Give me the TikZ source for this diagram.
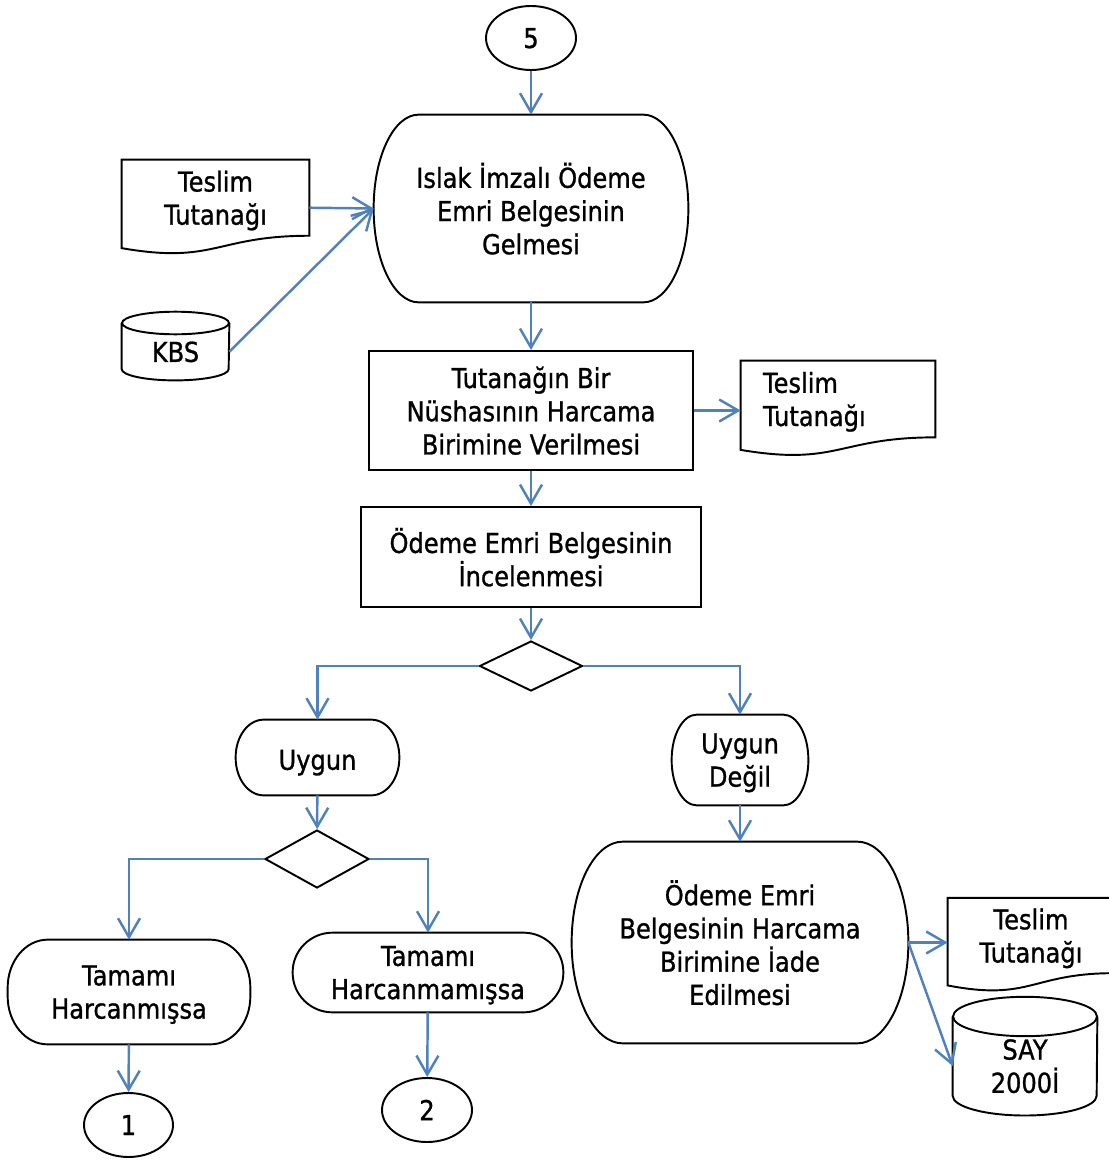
\documentclass[tikz,border=0pt]{standalone}
\usepackage{fontspec}
\setmainfont{DejaVu Sans}[FakeStretch=0.88,FakeBold=1]
\usetikzlibrary{shapes.geometric,arrows.meta,calc}
\definecolor{flowblue}{RGB}{79,129,189}
\newcommand{\pxl}{0.02cm}

\tikzset{
  every node/.style={font=\fontsize{15.6}{18.9}\selectfont, align=center, inner sep=0pt, text depth=0pt},
  dims/.style 2 args={minimum width=#1*\pxl, minimum height=#2*\pxl},
  outline/.style={draw=black, line width=1.1pt},
  procbox/.style={rectangle, outline},
  termbox/.style={rectangle},
  docbox/.style={rectangle},
  diskbox/.style={rectangle},
  decide/.style={diamond, outline},
  connector/.style={ellipse, outline},
  conn/.style={draw=flowblue, line width=1.4pt, -{Straight Barb[length=0.38cm,width=0.44cm]}},
}

\begin{document}
\begin{tikzpicture}[x=\pxl, y=-\pxl]
\useasboundingbox (0,0) rectangle (1108,1162);

% main column
\node[connector, dims={90}{64}] (c5) at (531,38) {5};
\node[termbox, dims={314}{187}] (islak) at (531,208.5) {Islak İmzalı Ödeme\\Emri Belgesinin\\Gelmesi};
\node[docbox, dims={187}{75.4}] (tesl1) at (215.5,197.7) {Teslim\\Tutanağı};
\node[diskbox, dims={107}{56.7}] (kbs) at (175.5,351.7) {KBS};
\node[procbox, dims={324}{119}] (tut) at (531,410.5) {Tutanağın Bir\\Nüshasının Harcama\\Birimine Verilmesi};
\node[docbox, dims={194}{76}, text width=150*\pxl, align=left, text depth=18.9pt] (tesl2) at (838,399) {Teslim\\Tutanağı};
\node[procbox, dims={340}{100}] (inc) at (531,557) {Ödeme Emri Belgesinin\\İncelenmesi};
\node[decide, dims={103}{50}] (d1) at (531,666) {};

% left branch
\node[termbox, dims={163}{75}, text height=14pt] (uygun) at (317.5,757.5) {Uygun};
\node[decide, dims={104}{58}] (d2) at (317,859) {};
\node[termbox, dims={242}{104}] (tam1) at (129,992) {Tamamı\\Harcanmışsa};
\node[termbox, dims={270}{79}] (tam2) at (428,972.5) {Tamamı\\Harcanmamışsa};
\node[connector, dims={89}{64}] (c1) at (128.5,1125) {1};
\node[connector, dims={90}{64}] (c2) at (427,1110) {2};

% right branch
\node[termbox, dims={136}{90}] (uygund) at (740,760) {Uygun\\Değil};
\node[termbox, dims={336}{201}] (iade) at (740,942.5) {Ödeme Emri\\Belgesinin Harcama\\Birimine İade\\Edilmesi};
\node[docbox, dims={166}{74.6}] (tesl3) at (1031,935.5) {Teslim\\Tutanağı};
\node[diskbox, dims={144}{98.3}] (say) at (1025,1066) {SAY\\2000İ};

% outlines
\foreach \n/\rx/\ry in {islak/45/93.5, iade/51/100.5, uygun/28/37.5, uygund/25/45, tam1/40/48, tam2/40/39.5}{
  \draw[outline] ([xshift=\rx*\pxl]\n.north west) -- ([xshift=-\rx*\pxl]\n.north east)
    arc[start angle=90, end angle=0, x radius=\rx*\pxl, y radius=\ry*\pxl]
    -- ([yshift=\ry*\pxl]\n.south east)
    arc[start angle=0, end angle=-90, x radius=\rx*\pxl, y radius=\ry*\pxl]
    -- ([xshift=\rx*\pxl]\n.south west)
    arc[start angle=270, end angle=180, x radius=\rx*\pxl, y radius=\ry*\pxl]
    -- ([yshift=-\ry*\pxl]\n.north west)
    arc[start angle=180, end angle=90, x radius=\rx*\pxl, y radius=\ry*\pxl] -- cycle;
}
\foreach \n/\h in {tesl1/94, tesl2/95, tesl3/93}{
  \draw[outline] (\n.north west) -- (\n.north east) -- (\n.south east)
    .. controls (\n.south) and ([yshift=-0.305*\h*\pxl]\n.south) .. ([yshift=-0.132*\h*\pxl]\n.south west) -- cycle;
}
\foreach \n/\r/\ry in {kbs/53.5/11.3, say/72/19.7}{
  \draw[outline] (\n.north west) -- ([yshift=\ry*\pxl]\n.south west)
    arc[start angle=180, end angle=360, x radius=\r*\pxl, y radius=\ry*\pxl] -- (\n.north east);
  \draw[outline] (\n.north) ellipse[x radius=\r*\pxl, y radius=\ry*\pxl];
}

% connectors
\draw[conn] (c5) -- (islak);
\draw[conn] ([yshift=-10*\pxl]tesl1.east) -- (islak.west);
\draw[conn] (kbs.east) -- (islak.west);
\draw[conn] (islak) -- (tut);
\draw[conn] (tut.east) -- (tut.east -| tesl2.west);
\draw[conn] (tut) -- (inc);
\draw[conn] (inc) -- (d1);
\draw[conn] (d1.west) -| (uygun.north);
\draw[conn] (d1.east) -| (uygund.north);
\draw[conn] (uygun) -- (d2);
\draw[conn] (d2.west) -| (tam1.north);
\draw[conn] (d2.east) -| (tam2.north);
\draw[conn] (tam1) -- (c1);
\draw[conn] (tam2) -- (c2);
\draw[conn] (uygund) -- (iade);
\draw[conn] (iade.east) -- (iade.east -| tesl3.west);
\draw[conn] (iade.east) -- (say.west);
\end{tikzpicture}
\end{document}
